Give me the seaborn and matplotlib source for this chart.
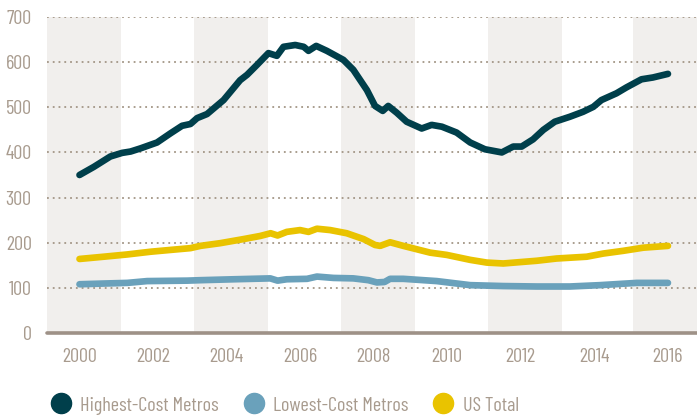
import pandas as pd
import matplotlib.pyplot as plt
import seaborn as sns
from matplotlib.lines import Line2D

# values (index values by year)
high_years = [2000.0, 2000.39, 2000.84, 2001.16, 2001.39, 2001.66, 2002.11, 2002.47, 2002.79, 2003.02,
              2003.2, 2003.47, 2003.92, 2004.37, 2004.56, 2004.83, 2005.14, 2005.37, 2005.55, 2005.87,
              2006.1, 2006.23, 2006.44, 2006.73, 2007.18, 2007.45, 2007.82, 2008.04, 2008.25, 2008.4,
              2008.63, 2008.9, 2009.31, 2009.58, 2009.86, 2010.26, 2010.63, 2011.03, 2011.49, 2011.8,
              2012.03, 2012.34, 2012.62, 2012.93, 2013.34, 2013.7, 2013.98, 2014.2, 2014.61, 2014.88,
              2015.29, 2015.6, 2016.01]
high_vals = [350, 368, 391, 399, 402, 409, 422, 442, 459, 463,
             476, 485, 516, 560, 572, 594, 620, 614, 634, 638,
             634, 625, 636, 625, 605, 583, 538, 503, 492, 503,
             488, 468, 453, 461, 457, 444, 422, 407, 400, 413,
             413, 429, 450, 468, 479, 490, 501, 516, 531, 544,
             562, 566, 574]

low_years = [2000.0, 2000.84, 2001.3, 2001.84, 2002.93, 2003.29, 2004.19, 2005.19, 2005.39, 2005.64,
             2006.19, 2006.46, 2006.91, 2007.45, 2007.86, 2008.09, 2008.3, 2008.45, 2008.81, 2009.72,
             2010.63, 2011.53, 2012.44, 2013.34, 2014.16, 2015.16, 2016.01]
low_vals = [108, 110, 111, 115, 116, 117, 119, 121, 116, 119,
            120, 125, 122, 121, 117, 112, 113, 120, 120, 115,
            106, 104, 103, 103, 106, 111, 111]

us_years = [2000.0, 2000.66, 2001.3, 2001.93, 2002.47, 2003.02, 2003.29, 2003.83, 2004.46, 2004.92,
            2005.2, 2005.39, 2005.64, 2006.0, 2006.23, 2006.46, 2006.82, 2007.27, 2007.73, 2008.04,
            2008.18, 2008.45, 2008.81, 2009.54, 2009.99, 2010.63, 2011.08, 2011.53, 2011.98, 2012.44,
            2012.98, 2013.8, 2014.25, 2014.79, 2015.34, 2016.01]
us_vals = [164, 169, 174, 180, 184, 188, 193, 199, 208, 215,
           221, 216, 224, 228, 224, 231, 228, 221, 208, 195,
           193, 201, 193, 178, 173, 162, 156, 154, 157, 160,
           165, 169, 176, 182, 189, 193]

series_names = ['Highest-Cost Metros', 'Lowest-Cost Metros', 'US Total']
series_colors = ['#003f4b', '#6aa1bb', '#e9c300']
band_starts = [1999.116, 2003.116, 2007.116, 2011.116, 2015.05]
x_ticks = list(range(2000, 2017, 2))
y_ticks = list(range(0, 701, 100))

df = pd.concat([
    pd.DataFrame({'year': high_years, 'value': high_vals, 'series': series_names[0]}),
    pd.DataFrame({'year': low_years, 'value': low_vals, 'series': series_names[1]}),
    pd.DataFrame({'year': us_years, 'value': us_vals, 'series': series_names[2]}),
])

sns.set_style('white')
plt.rcParams['font.family'] = ['Barlow Condensed', 'DejaVu Sans']
text_color = '#a89b8e'

fig = plt.figure(figsize=(6.97, 4.18), dpi=100)
ax = fig.add_axes([47 / 697, 85 / 418, 650 / 697, 316 / 418])

# alternating grey bands
for start in band_starts:
    ax.axvspan(start, start + 2, color='#f1efed', lw=0, zorder=0)

sns.lineplot(data=df, x='year', y='value', hue='series', palette=series_colors,
             hue_order=series_names, linewidth=4.8, legend=False, ax=ax, zorder=3)
for line in ax.get_lines():
    line.set_solid_capstyle('round')
    line.set_solid_joinstyle('round')

ax.set_xlim(1999.116, 2016.80)
ax.set_ylim(0, 700)
ax.set_xticks(x_ticks)
ax.set_yticks(y_ticks)
ax.set_xlabel('')
ax.set_ylabel('')
for y in y_ticks[1:]:
    ax.axhline(y, color='#a39686', lw=1.3, ls=(0, (1, 2.2)), zorder=1)
ax.axhline(0, color='#9e9187', lw=2.6, zorder=2, clip_on=False)
sns.despine(ax=ax, left=True, bottom=True)
ax.tick_params(length=0, labelsize=14.5, colors=text_color)
ax.tick_params(axis='y', pad=11)
ax.tick_params(axis='x', pad=11)

handles = [Line2D([], [], ls='none', marker='o', markersize=14.5, color=c) for c in series_colors]
leg = fig.legend(handles, series_names, loc='center left', bbox_to_anchor=(0.061, 0.03),
                 ncol=3, frameon=False, fontsize=14.5, handletextpad=0.45, columnspacing=1.25,
                 handlelength=1.0, borderaxespad=0)
for t in leg.get_texts():
    t.set_color(text_color)

fig.savefig('out.png', dpi=100)
